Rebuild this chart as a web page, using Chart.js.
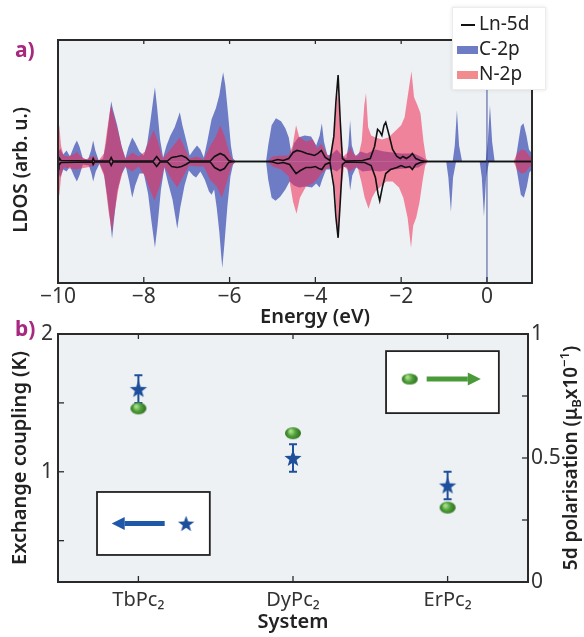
<!DOCTYPE html>
<html><head><meta charset="utf-8">
<script src="https://cdn.jsdelivr.net/npm/chart.js@4.4.0/dist/chart.umd.min.js"></script>
<style>
html,body{margin:0;padding:0;background:#fff;width:584px;height:637px;overflow:hidden}
#c1{position:absolute;left:0;top:0}
#c2{position:absolute;left:0;top:312px}
</style></head><body>
<canvas id="c1" width="584" height="330"></canvas>
<canvas id="c2" width="584" height="325"></canvas>
<script>
// ---------- DATA: panel a) LDOS (arb. u.), [energy eV, value] ----------
const energyTicks = [-10, -8, -6, -4, -2, 0];
const c2pUp = [[-10,0.8],[-9.95,1.3],[-9.88,0.7],[-9.8,1.1],[-9.72,0.5],[-9.62,1.6],[-9.56,2.1],[-9.5,1.5],[-9.42,0.3],[-9.3,0.2],[-9.23,1.1],[-9.18,2.1],[-9.13,1.1],[-9.05,0.1],[-8.95,0.3],[-8.88,1.8],[-8.8,4.6],[-8.76,6.0],[-8.72,5.2],[-8.62,3.6],[-8.52,1.6],[-8.43,0.3],[-8.36,1.4],[-8.27,2.4],[-8.2,1.9],[-8.1,1.0],[-8.0,0.6],[-7.92,1.8],[-7.84,4.2],[-7.77,6.5],[-7.74,7.4],[-7.69,5.4],[-7.62,2.2],[-7.55,0.4],[-7.47,1.6],[-7.38,2.6],[-7.28,3.4],[-7.2,4.4],[-7.16,4.9],[-7.1,3.6],[-7.0,1.9],[-6.93,0.6],[-6.85,1.1],[-6.76,1.6],[-6.68,1.2],[-6.6,0.4],[-6.52,2.0],[-6.42,4.2],[-6.32,5.3],[-6.24,6.6],[-6.18,8.2],[-6.15,8.9],[-6.1,7.6],[-6.03,4.5],[-5.97,1.6],[-5.92,0.3],[-5.85,0],[-5.15,0],[-5.1,1.6],[-5.02,3.6],[-4.92,4.3],[-4.8,4.0],[-4.7,3.3],[-4.62,2.4],[-4.56,0.8],[-4.5,1.8],[-4.4,2.4],[-4.25,2.6],[-4.1,2.5],[-3.98,1.6],[-3.9,2.6],[-3.85,3.8],[-3.8,2.0],[-3.72,0.6],[-3.6,0.8],[-3.5,1.2],[-3.38,0.6],[-3.28,0.3],[-3.23,1.6],[-3.19,4.1],[-3.15,1.6],[-3.07,0.5],[-2.95,1.0],[-2.8,0.8],[-2.6,1.2],[-2.4,1.0],[-2.2,0.9],[-2.0,0.8],[-1.7,0.8],[-1.5,0.4],[-1.38,0],[-0.8,0],[-0.75,1.6],[-0.7,5.1],[-0.65,1.6],[-0.58,0],[-0.03,0],[0.02,2.0],[0.07,5.6],[0.12,2.0],[0.18,0],[0.66,0],[0.72,1.6],[0.79,3.5],[0.85,3.8],[0.92,2.6],[0.98,1.2],[1.05,0.8]];
const c2pDown = [[-10,-1.0],[-9.95,-1.6],[-9.88,-0.8],[-9.8,-1.0],[-9.72,-0.5],[-9.62,-1.5],[-9.56,-2.0],[-9.5,-1.4],[-9.42,-0.3],[-9.28,-0.4],[-9.22,-1.2],[-9.18,-2.0],[-9.12,-1.0],[-9.03,-0.2],[-8.93,-1.2],[-8.85,-3.5],[-8.78,-6.0],[-8.74,-7.7],[-8.7,-6.0],[-8.62,-3.0],[-8.52,-1.3],[-8.42,-0.5],[-8.34,-2.0],[-8.27,-3.6],[-8.2,-2.4],[-8.1,-1.2],[-8.0,-1.2],[-7.9,-3.2],[-7.82,-6.0],[-7.74,-8.6],[-7.68,-6.4],[-7.6,-2.8],[-7.52,-0.6],[-7.43,-2.2],[-7.33,-3.8],[-7.26,-5.6],[-7.22,-6.7],[-7.15,-4.6],[-7.05,-2.4],[-6.95,-0.9],[-6.85,-1.4],[-6.78,-1.6],[-6.68,-1.0],[-6.58,-1.8],[-6.48,-3.0],[-6.42,-3.3],[-6.36,-2.8],[-6.3,-4.6],[-6.24,-7.0],[-6.19,-9.6],[-6.17,-10.6],[-6.12,-8.2],[-6.05,-4.4],[-5.98,-1.5],[-5.92,-0.3],[-5.85,0],[-5.15,0],[-5.1,-1.8],[-5.02,-3.6],[-4.93,-3.9],[-4.82,-3.5],[-4.7,-2.8],[-4.6,-2.0],[-4.5,-2.4],[-4.38,-2.6],[-4.22,-2.5],[-4.08,-2.6],[-3.98,-2.2],[-3.9,-2.6],[-3.84,-1.8],[-3.75,-0.8],[-3.6,-0.8],[-3.5,-1.0],[-3.36,-0.5],[-3.26,-0.6],[-3.22,-1.6],[-3.19,-2.9],[-3.14,-1.4],[-3.05,-0.6],[-2.9,-1.0],[-2.7,-0.9],[-2.5,-1.0],[-2.2,-0.8],[-1.9,-0.7],[-1.6,-0.6],[-1.45,-0.2],[-1.38,0],[-0.95,0],[-0.9,-1.6],[-0.84,-5.0],[-0.79,-1.6],[-0.72,0],[-0.17,0],[-0.12,-1.6],[-0.07,-5.5],[-0.02,-1.6],[0.05,0],[0.66,0],[0.72,-1.5],[0.79,-3.3],[0.86,-3.6],[0.93,-2.5],[0.99,-1.1],[1.05,-0.8]];
const n2pUp = [[-10,3.0],[-9.97,3.6],[-9.93,1.6],[-9.87,0.6],[-9.77,0.5],[-9.6,0.8],[-9.56,1.0],[-9.5,0.6],[-9.35,0.2],[-9.18,0.6],[-9.05,0.1],[-8.93,0.8],[-8.86,3.0],[-8.78,5.3],[-8.76,5.5],[-8.7,4.6],[-8.6,3.0],[-8.5,1.2],[-8.42,0.3],[-8.27,0.9],[-8.12,0.5],[-7.97,1.0],[-7.87,2.2],[-7.77,3.1],[-7.67,2.0],[-7.56,0.3],[-7.42,1.0],[-7.27,1.8],[-7.16,2.4],[-7.06,1.5],[-6.94,0.3],[-6.76,0.5],[-6.6,0.2],[-6.46,1.5],[-6.32,2.5],[-6.22,3.6],[-6.12,2.6],[-6.0,0.8],[-5.92,0.1],[-5.85,0],[-5.12,0],[-5.0,0.5],[-4.8,0.6],[-4.62,0.6],[-4.53,1.6],[-4.45,3.6],[-4.38,2.5],[-4.22,2.0],[-4.06,2.2],[-3.96,1.3],[-3.86,1.8],[-3.76,1.0],[-3.66,0.3],[-3.56,2.8],[-3.5,6.0],[-3.47,7.0],[-3.42,3.0],[-3.35,0.5],[-3.22,1.0],[-3.19,1.5],[-3.12,0.8],[-3.0,0.5],[-2.92,2.0],[-2.86,5.6],[-2.82,6.8],[-2.77,3.4],[-2.7,2.6],[-2.6,2.4],[-2.45,2.2],[-2.3,2.4],[-2.15,3.0],[-2.0,3.6],[-1.92,4.4],[-1.83,7.0],[-1.76,9.0],[-1.7,6.4],[-1.62,5.6],[-1.55,4.8],[-1.48,2.0],[-1.42,0.3],[-1.36,0],[0.62,0],[0.7,0.8],[0.8,1.2],[0.9,1.1],[1.0,0.5],[1.05,0.4]];
const n2pDown = [[-10,-3.0],[-9.97,-3.4],[-9.93,-1.6],[-9.87,-0.6],[-9.6,-0.8],[-9.2,-0.5],[-9.05,-0.1],[-8.92,-1.5],[-8.82,-5.0],[-8.76,-6.6],[-8.74,-7.0],[-8.68,-5.0],[-8.58,-2.5],[-8.46,-0.5],[-8.27,-1.0],[-8.12,-0.5],[-7.97,-1.5],[-7.86,-2.8],[-7.75,-3.9],[-7.63,-2.5],[-7.52,-0.5],[-7.38,-1.6],[-7.22,-2.6],[-7.08,-1.5],[-6.94,-0.4],[-6.76,-0.5],[-6.6,-0.5],[-6.46,-1.8],[-6.3,-2.5],[-6.18,-3.6],[-6.06,-2.0],[-5.96,-0.5],[-5.87,0],[-5.12,0],[-5.0,-0.5],[-4.8,-0.8],[-4.62,-1.5],[-4.52,-4.0],[-4.44,-5.2],[-4.36,-3.6],[-4.22,-2.5],[-4.06,-2.2],[-3.96,-1.8],[-3.86,-1.2],[-3.76,-0.8],[-3.62,-0.5],[-3.54,-3.0],[-3.49,-6.4],[-3.47,-7.2],[-3.41,-3.0],[-3.33,-0.5],[-3.2,-1.0],[-3.02,-0.5],[-2.93,-2.0],[-2.85,-3.6],[-2.76,-4.7],[-2.68,-3.6],[-2.6,-3.0],[-2.5,-2.6],[-2.35,-2.0],[-2.2,-2.0],[-2.05,-2.6],[-1.95,-3.6],[-1.85,-5.6],[-1.77,-8.6],[-1.72,-6.4],[-1.65,-5.6],[-1.57,-4.0],[-1.5,-1.9],[-1.44,-0.4],[-1.38,0],[0.62,0],[0.7,-0.8],[0.8,-1.2],[0.9,-1.1],[1.0,-0.5],[1.05,-0.4]];
const ln5dUp = [[-10,0.1],[-9.98,0.4],[-9.93,0.1],[-9.2,0.05],[-9.18,0.3],[-9.15,0.05],[-8.8,0.05],[-8.76,0.4],[-8.72,0.05],[-7.78,0.05],[-7.7,0.5],[-7.62,0.05],[-7.45,0.05],[-7.35,0.4],[-7.22,0.5],[-7.12,0.6],[-7.02,0.4],[-6.93,0.05],[-6.45,0.05],[-6.35,0.5],[-6.22,0.8],[-6.12,0.6],[-6.02,0.1],[-5.92,0],[-5.1,0],[-5.0,0.05],[-4.88,0.2],[-4.75,0.1],[-4.62,0.3],[-4.52,0.9],[-4.43,1.1],[-4.32,1.0],[-4.2,0.8],[-4.1,0.7],[-4.02,0.6],[-3.94,0.8],[-3.86,1.1],[-3.77,0.4],[-3.66,0.1],[-3.57,2.5],[-3.52,6.0],[-3.47,8.6],[-3.42,4.0],[-3.37,0.3],[-3.3,0.05],[-2.9,0.1],[-2.72,0.3],[-2.62,1.5],[-2.55,3.2],[-2.5,3.0],[-2.45,2.6],[-2.4,3.6],[-2.36,3.9],[-2.28,2.6],[-2.2,1.2],[-2.1,0.5],[-2.02,0.3],[-1.96,0.5],[-1.88,0.3],[-1.8,0.5],[-1.74,0.8],[-1.66,0.3],[-1.55,0.1],[-1.42,0],[1.05,0]];
const ln5dDown = [[-10,-0.1],[-9.98,-0.4],[-9.93,-0.1],[-9.2,-0.05],[-9.18,-0.3],[-9.15,-0.05],[-8.8,-0.05],[-8.76,-0.4],[-8.72,-0.05],[-7.78,-0.05],[-7.7,-0.5],[-7.62,-0.05],[-7.45,-0.05],[-7.35,-0.5],[-7.22,-0.6],[-7.12,-0.5],[-7.02,-0.3],[-6.93,-0.05],[-6.45,-0.05],[-6.35,-0.6],[-6.22,-0.9],[-6.12,-0.7],[-6.02,-0.1],[-5.92,0],[-5.1,0],[-5.0,-0.05],[-4.88,-0.2],[-4.75,-0.1],[-4.6,-0.3],[-4.52,-0.8],[-4.45,-1.2],[-4.35,-0.9],[-4.22,-0.6],[-4.1,-0.6],[-4.0,-0.5],[-3.92,-0.7],[-3.85,-0.8],[-3.77,-0.3],[-3.66,-0.1],[-3.57,-2.5],[-3.52,-5.6],[-3.47,-7.6],[-3.42,-4.0],[-3.37,-0.3],[-3.3,-0.05],[-2.85,-0.1],[-2.7,-0.4],[-2.6,-1.6],[-2.54,-3.2],[-2.5,-3.9],[-2.44,-2.6],[-2.36,-1.2],[-2.25,-0.8],[-2.1,-0.6],[-2.0,-0.4],[-1.9,-0.6],[-1.8,-0.5],[-1.74,-0.8],[-1.66,-0.3],[-1.55,-0.1],[-1.42,0],[1.05,0]];

// ---------- DATA: panel b) ----------
const systems = ['TbPc\u2082', 'DyPc\u2082', 'ErPc\u2082'];
const exchangeK = [1.6, 1.1, 0.9];
const exchangeErr = [0.1, 0.1, 0.1];
const polarisation = [0.70, 0.60, 0.30];
const leftTicks = [1, 2];
const leftMinor = [0.5, 1, 1.5];
const rightTicks = [0, 0.5, 1];
const rightMinor = [0.25, 0.5, 0.75];

// ---------- STYLE ----------
const FONT = "'Noto Sans', 'DejaVu Sans', sans-serif";
const BG = '#edf1f4';
const BLUE = 'rgb(110,124,198)';
const RED = 'rgba(240,45,85,0.56)';
const RED_LEG = '#f28b8e';
const MAG = '#a8287f';
const STARC = '#1d4f9b';
const GREEN = '#4b9a3a';

const pts = a => a.map(p => ({x: p[0], y: p[1]}));
function fillDs(label, arr, color, order) {
  return {label, data: pts(arr), backgroundColor: color, borderColor: color, borderWidth: 0,
          fill: 'origin', pointRadius: 0, tension: 0, order};
}
function lineDs(label, arr, order) {
  return {label, data: pts(arr), borderColor: '#111', borderWidth: 1.6, fill: false,
          pointRadius: 0, tension: 0, order};
}

function frameAndTicks(ctx, a) {
  ctx.save();
  ctx.strokeStyle = '#2a2a2a'; ctx.lineWidth = 2;
  ctx.strokeRect(a.left, a.top, a.right - a.left, a.bottom - a.top);
  ctx.restore();
}
function tickMark(ctx, x1, y1, x2, y2) {
  ctx.save(); ctx.strokeStyle = '#2a2a2a'; ctx.lineWidth = 1.3;
  ctx.beginPath(); ctx.moveTo(x1, y1); ctx.lineTo(x2, y2); ctx.stroke(); ctx.restore();
}
function vText(ctx, text, x, y, font, color) {
  ctx.save(); ctx.translate(x, y); ctx.rotate(-Math.PI / 2);
  ctx.font = font; ctx.fillStyle = color; ctx.textAlign = 'center'; ctx.textBaseline = 'middle';
  ctx.fillText(text, 0, 0); ctx.restore();
}

// ---------- panel a) ----------
const topDecor = {
  id: 'topDecor',
  beforeDatasetsDraw(chart) {
    const {ctx, chartArea: a} = chart;
    ctx.save(); ctx.fillStyle = BG; ctx.fillRect(a.left, a.top, a.width, a.height); ctx.restore();
  },
  afterDatasetsDraw(chart) {
    const {ctx, chartArea: a, scales: {x}} = chart;
    const xf = x.getPixelForValue(0);
    ctx.save(); ctx.strokeStyle = 'rgba(60,75,150,0.8)'; ctx.lineWidth = 1.2;
    ctx.beginPath(); ctx.moveTo(xf, a.top); ctx.lineTo(xf, a.bottom); ctx.stroke(); ctx.restore();
    frameAndTicks(ctx, a);
    energyTicks.forEach(v => {
      const px = x.getPixelForValue(v);
      tickMark(ctx, px, a.bottom, px, a.bottom - 6);
      tickMark(ctx, px, a.top, px, a.top + 4);
    });
  },
  afterDraw(chart) {
    const {ctx} = chart;
    ctx.save();
    ctx.font = `600 20px ${FONT}`; ctx.fillStyle = '#222'; ctx.textAlign = 'center'; ctx.textBaseline = 'middle';
    ctx.fillText('Energy (eV)', 315, 317);
    ctx.restore();
    vText(ctx, 'LDOS (arb. u.)', 22, 170, `600 19px ${FONT}`, '#222');
    ctx.save(); ctx.font = `bold 21px ${FONT}`; ctx.fillStyle = MAG; ctx.textBaseline = 'middle';
    ctx.fillText('a)', 15, 51); ctx.restore();
    // legend
    ctx.save();
    ctx.shadowColor = 'rgba(0,0,0,0.10)'; ctx.shadowBlur = 4;
    ctx.fillStyle = '#fff'; ctx.fillRect(452, 7, 94, 83);
    ctx.shadowColor = 'transparent';
    ctx.strokeStyle = '#ececec'; ctx.lineWidth = 1; ctx.strokeRect(452.5, 7.5, 93, 82);
    const ds = chart.data.datasets;
    ctx.font = `19px ${FONT}`; ctx.fillStyle = '#222'; ctx.textBaseline = 'middle';
    ctx.strokeStyle = '#111'; ctx.lineWidth = 2;
    ctx.beginPath(); ctx.moveTo(461, 25); ctx.lineTo(475, 25); ctx.stroke();
    ctx.fillText(ds[0].label, 479, 25);
    ctx.fillStyle = BLUE; ctx.fillRect(457, 46, 21, 8);
    ctx.fillStyle = '#222'; ctx.fillText(ds[4].label, 479, 50);
    ctx.fillStyle = RED_LEG; ctx.fillRect(457, 71, 21, 8);
    ctx.fillStyle = '#222'; ctx.fillText(ds[2].label, 479, 75);
    ctx.restore();
  }
};

new Chart(document.getElementById('c1'), {
  type: 'line',
  data: {datasets: [
    lineDs('Ln-5d', ln5dUp, 0),
    lineDs('Ln-5d', ln5dDown, 0),
    fillDs('N-2p', n2pUp, RED, 1),
    fillDs('N-2p', n2pDown, RED, 1),
    fillDs('C-2p', c2pUp, BLUE, 2),
    fillDs('C-2p', c2pDown, BLUE, 2)
  ]},
  options: {
    responsive: false, animation: false, devicePixelRatio: 1,
    layout: {padding: {top: 40, right: 52, left: 0, bottom: 0}},
    plugins: {legend: {display: false}, tooltip: {enabled: false}},
    scales: {
      x: {type: 'linear', min: -10, max: 1.05,
          afterBuildTicks: s => { s.ticks = energyTicks.map(v => ({value: v})); },
          afterFit: s => { s.height = 47; },
          grid: {display: false, drawTicks: false}, border: {display: false},
          ticks: {padding: 1, maxRotation: 0, autoSkip: false, color: '#333',
                  font: {family: FONT, size: 21},
                  callback: v => String(v).replace('-', '\u2212')}},
      y: {min: -12.1, max: 12.1, afterFit: s => { s.width = 58; },
          ticks: {display: false}, grid: {display: false, drawTicks: false}, border: {display: false}}
    }
  },
  plugins: [topDecor]
});

// ---------- panel b) ----------
function makeStar(r) {
  const c = document.createElement('canvas'); c.width = c.height = Math.ceil(2 * r + 2);
  const g = c.getContext('2d'); const cx = c.width / 2, cy = c.height / 2 + 0.8;
  g.beginPath();
  for (let i = 0; i < 10; i++) {
    const rr = i % 2 ? r * 0.42 : r; const ang = -Math.PI / 2 + i * Math.PI / 5;
    g.lineTo(cx + rr * Math.cos(ang), cy + rr * Math.sin(ang));
  }
  g.closePath(); g.fillStyle = STARC; g.fill();
  return c;
}
function makeBall(rx, ry) {
  const c = document.createElement('canvas'); c.width = 2 * rx + 2; c.height = 2 * ry + 2;
  const g = c.getContext('2d'); const cx = c.width / 2, cy = c.height / 2;
  const gr = g.createRadialGradient(cx - rx * 0.3, cy - ry * 0.35, 1, cx, cy, rx);
  gr.addColorStop(0, '#a6de86'); gr.addColorStop(0.45, '#4f9e3a'); gr.addColorStop(1, '#2c6e1f');
  g.beginPath(); g.ellipse(cx, cy, rx, ry, 0, 0, Math.PI * 2); g.fillStyle = gr; g.fill();
  return c;
}
const starImg = makeStar(9);
const ballImg = makeBall(8, 6);
const starSmall = makeStar(8.5);
const ballSmall = makeBall(8, 5.5);

function arrow(ctx, x1, x2, y, color, dir) {
  ctx.save(); ctx.fillStyle = color; ctx.strokeStyle = color;
  const head = 13 * dir;
  ctx.lineWidth = 5;
  ctx.beginPath(); ctx.moveTo(x1, y); ctx.lineTo(x2 - head, y); ctx.stroke();
  ctx.beginPath(); ctx.moveTo(x2, y); ctx.lineTo(x2 - head, y - 6.5); ctx.lineTo(x2 - head, y + 6.5); ctx.closePath(); ctx.fill();
  ctx.restore();
}

const botDecor = {
  id: 'botDecor',
  beforeDatasetsDraw(chart) {
    const {ctx, chartArea: a, scales: {x, y}} = chart;
    ctx.save(); ctx.fillStyle = BG; ctx.fillRect(a.left, a.top, a.width, a.height); ctx.restore();
    ctx.save(); ctx.strokeStyle = STARC; ctx.lineWidth = 2;
    exchangeK.forEach((v, i) => {
      const px = x.getPixelForValue(i + 1);
      const y1 = y.getPixelForValue(v - exchangeErr[i]), y2 = y.getPixelForValue(v + exchangeErr[i]);
      ctx.beginPath(); ctx.moveTo(px, y1); ctx.lineTo(px, y2);
      ctx.moveTo(px - 4, y1); ctx.lineTo(px + 4, y1);
      ctx.moveTo(px - 4, y2); ctx.lineTo(px + 4, y2); ctx.stroke();
    });
    ctx.restore();
  },
  afterDatasetsDraw(chart) {
    const {ctx, chartArea: a, scales: {x, y, y2}} = chart;
    const W = a.right - a.left, H = a.bottom - a.top;
    const box = (fx1, fy1, fx2, fy2) => {
      const bx = a.left + fx1 * W, by = a.top + fy1 * H, bw = (fx2 - fx1) * W, bh = (fy2 - fy1) * H;
      ctx.save(); ctx.fillStyle = '#fff'; ctx.fillRect(bx, by, bw, bh);
      ctx.strokeStyle = '#222'; ctx.lineWidth = 1.8; ctx.strokeRect(bx, by, bw, bh); ctx.restore();
      return {bx, by, bw, bh};
    };
    const L = box(0.083, 0.637, 0.323, 0.891);
    const ly = L.by + L.bh / 2;
    arrow(ctx, L.bx + 0.60 * L.bw, L.bx + 0.13 * L.bw, ly, '#1f58a8', -1);
    ctx.drawImage(starSmall, L.bx + 0.79 * L.bw - starSmall.width / 2, ly - starSmall.height / 2);
    const R = box(0.698, 0.069, 0.938, 0.319);
    const ry = R.by + R.bh * 0.45;
    ctx.drawImage(ballSmall, R.bx + 0.21 * R.bw - ballSmall.width / 2, ry - ballSmall.height / 2);
    arrow(ctx, R.bx + 0.36 * R.bw, R.bx + 0.84 * R.bw, ry, GREEN, 1);
    frameAndTicks(ctx, a);
    systems.forEach((s, i) => {
      const px = x.getPixelForValue(i + 1);
      tickMark(ctx, px, a.bottom, px, a.bottom - 6);
      tickMark(ctx, px, a.top, px, a.top + 5);
    });
    leftMinor.forEach(v => { const py = y.getPixelForValue(v); tickMark(ctx, a.left, py, a.left + 6, py); });
    rightMinor.forEach(v => { const py = y2.getPixelForValue(v); tickMark(ctx, a.right, py, a.right - 6, py); });
  },
  afterDraw(chart) {
    const {ctx, chartArea: a} = chart;
    const cy = (a.top + a.bottom) / 2;
    ctx.save();
    ctx.font = `600 20px ${FONT}`; ctx.fillStyle = '#222'; ctx.textAlign = 'center'; ctx.textBaseline = 'middle';
    ctx.fillText('System', (a.left + a.right) / 2, 310);
    ctx.restore();
    vText(ctx, 'Exchange coupling (K)', 20, cy, `600 20px ${FONT}`, '#222');
    const parts = [['5d polarisation (\u03bc', 0, 19], ['B', 5, 13], ['x10', 0, 19], ['\u22121', -7, 13], [')', 0, 19]];
    ctx.save(); ctx.translate(572, cy); ctx.rotate(-Math.PI / 2);
    ctx.fillStyle = '#222'; ctx.textBaseline = 'middle'; ctx.textAlign = 'left';
    let tw = 0;
    parts.forEach(p => { ctx.font = `600 ${p[2]}px ${FONT}`; tw += ctx.measureText(p[0]).width; });
    let cx = -tw / 2;
    parts.forEach(p => { ctx.font = `600 ${p[2]}px ${FONT}`; ctx.fillText(p[0], cx, p[1]); cx += ctx.measureText(p[0]).width; });
    ctx.restore();
    ctx.save(); ctx.font = `bold 21px ${FONT}`; ctx.fillStyle = MAG; ctx.textBaseline = 'middle';
    ctx.fillText('b)', 15, 18); ctx.restore();
  }
};

new Chart(document.getElementById('c2'), {
  type: 'scatter',
  data: {datasets: [
    {label: 'Exchange coupling (K)', data: exchangeK.map((v, i) => ({x: i + 1, y: v})), yAxisID: 'y',
     pointStyle: starImg, pointRadius: 9, showLine: false, order: 0},
    {label: '5d polarisation', data: polarisation.map((v, i) => ({x: i + 1, y: v})), yAxisID: 'y2',
     pointStyle: ballImg, pointRadius: 8, showLine: false, order: 1}
  ]},
  options: {
    responsive: false, animation: false, devicePixelRatio: 1,
    layout: {padding: {top: 22, right: 0, left: 0, bottom: 0}},
    plugins: {legend: {display: false}, tooltip: {enabled: false}},
    scales: {
      x: {type: 'linear', min: 0.48, max: 3.52,
          afterBuildTicks: s => { s.ticks = systems.map((t, i) => ({value: i + 1})); },
          afterFit: s => { s.height = 55; },
          grid: {display: false, drawTicks: false}, border: {display: false},
          ticks: {padding: 6, maxRotation: 0, autoSkip: false, color: '#333', font: {family: FONT, size: 20},
                  callback: v => systems[Math.round(v) - 1]}},
      y: {position: 'left', min: 0.2, max: 2,
          afterBuildTicks: s => { s.ticks = leftTicks.map(v => ({value: v})); },
          afterFit: s => { s.width = 58; },
          grid: {display: false, drawTicks: false}, border: {display: false},
          ticks: {padding: 5, color: '#333', font: {family: FONT, size: 21}, callback: v => String(v)}},
      y2: {position: 'right', min: 0, max: 1,
           afterBuildTicks: s => { s.ticks = rightTicks.map(v => ({value: v})); },
           afterFit: s => { s.width = 56; },
           grid: {display: false, drawTicks: false}, border: {display: false},
           ticks: {padding: 3, color: '#333', font: {family: FONT, size: 21}, callback: v => String(v)}}
    }
  },
  plugins: [botDecor]
});
</script></body></html>
